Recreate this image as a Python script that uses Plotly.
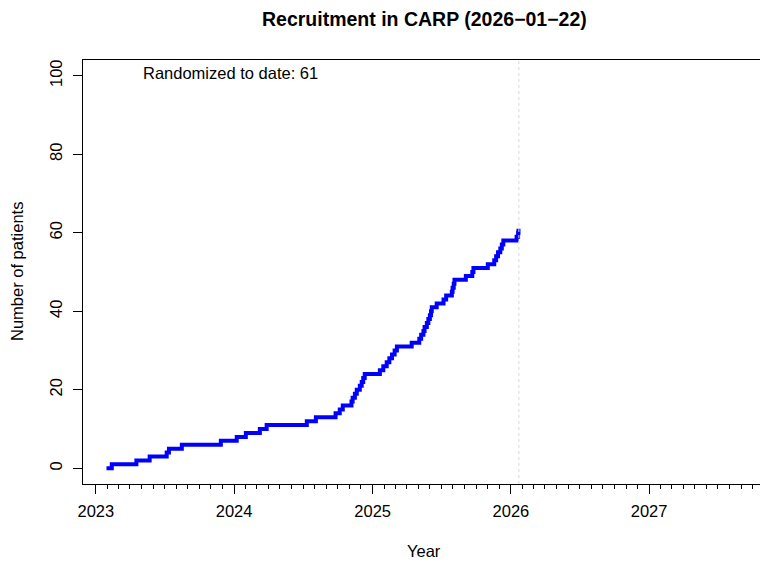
import plotly.graph_objects as go
import pandas as pd

# Cumulative recruitment (step function)
dates = [
    "2023-01-29", "2023-02-12", "2023-04-18", "2023-05-23", "2023-07-07", "2023-07-13",
    "2023-08-16", "2023-11-27", "2024-01-08", "2024-02-01", "2024-03-09", "2024-03-27",
    "2024-07-11", "2024-08-04", "2024-09-25", "2024-10-06", "2024-10-14", "2024-11-06",
    "2024-11-09", "2024-11-15", "2024-11-20", "2024-11-28", "2024-12-03", "2024-12-07",
    "2024-12-11", "2025-01-20", "2025-01-29", "2025-02-07", "2025-02-14", "2025-02-21",
    "2025-02-28", "2025-03-06", "2025-04-14", "2025-05-04", "2025-05-09", "2025-05-15",
    "2025-05-18", "2025-05-24", "2025-05-28", "2025-06-01", "2025-06-04", "2025-06-06",
    "2025-06-19", "2025-07-07", "2025-07-14", "2025-07-29", "2025-07-31", "2025-08-03",
    "2025-08-05", "2025-09-04", "2025-09-21", "2025-09-24", "2025-11-01", "2025-11-18",
    "2025-11-23", "2025-11-28", "2025-12-04", "2025-12-08", "2025-12-12", "2026-01-16",
    "2026-01-20", "2026-01-21",
]
counts = list(range(0, 62))

report_date = "2026-01-22"
title_text = "Recruitment in CARP (2026\u221201\u221222)"
note_text = "Randomized to date: 61"

year_ticks = ["2023-01-01", "2024-01-01", "2025-01-01", "2026-01-01", "2027-01-01"]
year_labels = ["2023", "2024", "2025", "2026", "2027"]
month_ticks = [d.strftime("%Y-%m-%d") for d in pd.date_range("2023-01-01", "2027-10-01", freq="MS")]
y_ticks = [0, 20, 40, 60, 80, 100]

FONT = "Liberation Sans, Arial, Helvetica, sans-serif"

fig = go.Figure()
fig.add_trace(go.Scatter(
    x=dates, y=counts, mode="lines",
    line=dict(color="#0000FF", width=4, shape="hv"),
    showlegend=False, hoverinfo="skip",
))

fig.add_shape(type="line", xref="x", yref="paper", x0=report_date, x1=report_date,
              y0=0, y1=1, line=dict(color="#d9d9d9", width=1, dash="dot"))

# page body has an 8px margin, so the figure is sized/offset accordingly
fig.update_layout(
    width=760, height=558,
    margin=dict(l=75, r=3, t=52, b=82, autoexpand=False),
    paper_bgcolor="white", plot_bgcolor="white",
    font=dict(family=FONT, size=16.5, color="black"),
    showlegend=False,
)

fig.update_xaxes(
    type="date", range=["2022-11-28", "2027-11-03"], automargin=False,
    tickmode="array", tickvals=year_ticks, ticktext=year_labels,
    ticks="outside", ticklen=9, tickwidth=1, tickcolor="black",
    ticklabelstandoff=3,
    minor=dict(tickmode="array", tickvals=month_ticks, ticks="outside", ticklen=4,
               tickwidth=1, tickcolor="black", showgrid=False),
    showgrid=False, zeroline=False,
    showline=True, mirror=True, linecolor="black", linewidth=1,
    tickfont=dict(family=FONT, size=16.5, color="black"),
)
fig.update_yaxes(
    range=[-4, 104], tickmode="array", tickvals=y_ticks, automargin=False,
    ticks="outside", ticklen=9, tickwidth=1, tickcolor="black",
    tickangle=-90, ticklabelstandoff=4,
    showgrid=False, zeroline=False,
    showline=True, mirror=True, linecolor="black", linewidth=1,
    tickfont=dict(family=FONT, size=16.5, color="black"),
)

# Title
fig.add_annotation(text="<b>" + title_text + "</b>", xref="paper", yref="paper",
                   x=0.5, y=1, yshift=41, xanchor="center", yanchor="middle",
                   showarrow=False, font=dict(family=FONT, size=19.5, color="black"))
# Note inside plot
fig.add_annotation(text=note_text, xref="paper", yref="paper",
                   x=0.0844, y=0.969, xanchor="left", yanchor="middle",
                   showarrow=False, font=dict(family=FONT, size=16.5, color="black"))
# Axis titles
fig.add_annotation(text="Year", xref="paper", yref="paper", x=0.5, y=0, yshift=-67,
                   xanchor="center", yanchor="middle", showarrow=False,
                   font=dict(family=FONT, size=16.5, color="black"))
fig.add_annotation(text="Number of patients", xref="paper", yref="paper", x=0, y=0.5,
                   xshift=-66, xanchor="center", yanchor="middle", textangle=-90,
                   showarrow=False, font=dict(family=FONT, size=16.5, color="black"))

fig.write_html("out.html")
